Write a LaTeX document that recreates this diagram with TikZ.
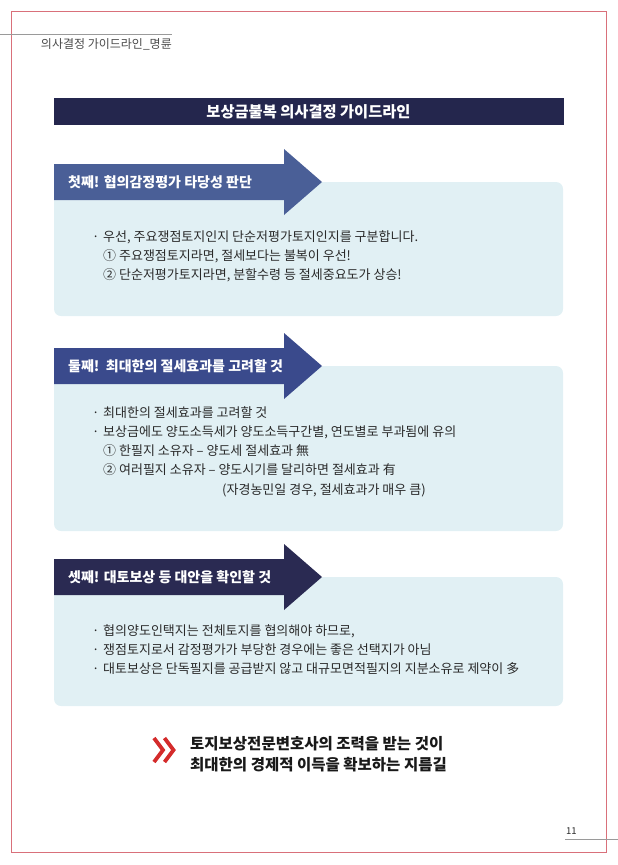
\documentclass[tikz,border=0pt]{standalone}
\usepackage{fontspec}
\setmainfont{Noto Sans CJK KR}
\definecolor{pagered}{HTML}{D9707A}
\definecolor{rulegray}{HTML}{9A9A9A}
\definecolor{titlenavy}{HTML}{24264D}
\definecolor{arrowA}{HTML}{4A5F97}
\definecolor{arrowB}{HTML}{3A4A8C}
\definecolor{arrowC}{HTML}{2A2A52}
\definecolor{boxc}{HTML}{E1F0F4}
\definecolor{txt}{HTML}{2A2A2A}
\definecolor{chev}{HTML}{D42B2B}
\newcommand\bul{\makebox[11pt][l]{·}}
\tikzset{
  bodytxt/.style={anchor=west, inner sep=0pt, font=\fontsize{13}{15}\selectfont, text=txt},
  labeltxt/.style={anchor=west, inner sep=0pt, font=\fontsize{14}{16}\selectfont\bfseries, text=white},
  infobox/.style={fill=boxc, rounded corners=7pt},
  secarrow/.pic={\fill (0,-18) -- (230,-18) -- (230,-33) -- (268,0) -- (230,33) -- (230,18) -- (0,18) -- cycle;},
}
\begin{document}
\begin{tikzpicture}[x=1pt,y=-1pt]
\useasboundingbox (0,0) rectangle (618,865);
% page frame
\draw[pagered, line width=0.8pt] (11,11.5) rectangle (606.5,852.5);
\draw[rulegray, line width=0.8pt] (0,34) -- (172,34);
\node[anchor=east, inner sep=0pt, font=\fontsize{12}{14}\selectfont, text=txt!85] (hdr) at (172,44) {의사결정 가이드라인\_명륜};
\draw[rulegray, line width=0.8pt] (565,839) -- (618,839);
\node[anchor=west, inner sep=0pt, font=\fontsize{9.5}{11}\selectfont, text=txt] (pg) at (566,831) {11};
% title bar
\fill[titlenavy] (54,98) rectangle (564,125);
\node[inner sep=0pt, font=\fontsize{15.3}{17}\selectfont\bfseries, text=white] (title) at (308.5,111.5) {보상금불복 의사결정 가이드라인};
% section 1
\fill[infobox] (54,182) rectangle (563,316);
\pic[arrowA] at (54,182) {secarrow};
\node[labeltxt] (l1) at (68,182) {첫째! 협의감정평가 타당성 판단};
\node[bodytxt] (a1) at (92,237) {\bul 우선, 주요쟁점토지인지 단순저평가토지인지를 구분합니다.};
\node[bodytxt] (a2) at (103,256) {① 주요쟁점토지라면, 절세보다는 불복이 우선!};
\node[bodytxt] (a3) at (103,275) {② 단순저평가토지라면, 분할수령 등 절세중요도가 상승!};
% section 2
\fill[infobox] (54,366) rectangle (563,531);
\pic[arrowB] at (54,366) {secarrow};
\node[labeltxt] (l2) at (68,366) {둘째!\ \ 최대한의 절세효과를 고려할 것};
\node[bodytxt] (b1) at (92,413) {\bul 최대한의 절세효과를 고려할 것};
\node[bodytxt] (b2) at (92,432) {\bul 보상금에도 양도소득세가 양도소득구간별, 연도별로 부과됨에 유의};
\node[bodytxt] (b3) at (103,451) {① 한필지 소유자 – 양도세 절세효과 無};
\node[bodytxt] (b4) at (103,470) {② 여러필지 소유자 – 양도시기를 달리하면 절세효과 有};
\node[bodytxt] (b5) at (222,490) {(자경농민일 경우, 절세효과가 매우 큼)};
% section 3
\fill[infobox] (54,577) rectangle (563,706);
\pic[arrowC] at (54,577) {secarrow};
\node[labeltxt] (l3) at (68,577) {셋째! 대토보상 등 대안을 확인할 것};
\node[bodytxt] (c1) at (92,631) {\bul 협의양도인택지는 전체토지를 협의해야 하므로,};
\node[bodytxt] (c2) at (92,650) {\bul 쟁점토지로서 감정평가가 부당한 경우에는 좋은 선택지가 아님};
\node[bodytxt] (c3) at (92,669) {\bul 대토보상은 단독필지를 공급받지 않고 대규모면적필지의 지분소유로 제약이 多};
% closing
\draw[chev, line width=3.8pt, miter limit=10] (154,738) -- (163,750) -- (154,762);
\draw[chev, line width=3.8pt, miter limit=10] (164.5,738) -- (173.5,750) -- (164.5,762);
\node[anchor=west, inner sep=0pt, font=\fontsize{15.5}{17}\selectfont\bfseries, text=black!90] (f1) at (190,744) {토지보상전문변호사의 조력을 받는 것이};
\node[anchor=west, inner sep=0pt, font=\fontsize{15.5}{17}\selectfont\bfseries, text=black!90] (f2) at (190,765) {최대한의 경제적 이득을 확보하는 지름길};
\end{tikzpicture}
\end{document}
